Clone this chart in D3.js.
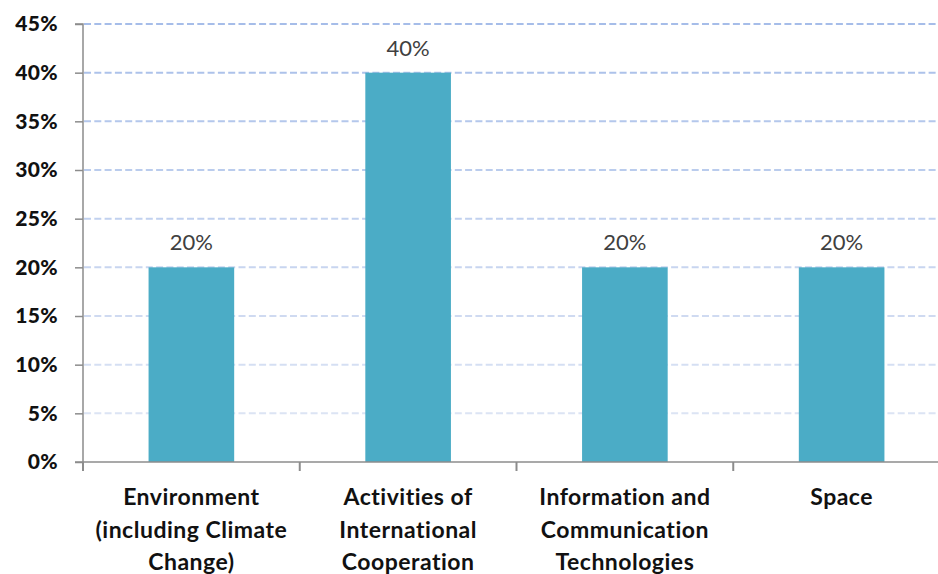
<!DOCTYPE html>
<html>
<head>
<meta charset="utf-8">
<script src="https://cdn.jsdelivr.net/npm/d3@7"></script>
<style>
  html, body { margin: 0; padding: 0; background: #fff; }
  svg { display: block; }
</style>
</head>
<body>
<svg id="chart" width="938" height="574"></svg>
<script>
// Share of projects by thematic area
const categories = [
  ["Environment", "(including Climate", "Change)"],
  ["Activities of", "International", "Cooperation"],
  ["Information and", "Communication", "Technologies"],
  ["Space"]
];
const values = [0.20, 0.40, 0.20, 0.20];
const yTicks = [0, 0.05, 0.10, 0.15, 0.20, 0.25, 0.30, 0.35, 0.40, 0.45];

const svg = d3.select("#chart");
const plotLeft = 83, plotRight = 950, plotTop = 24, plotBottom = 462;

const x = d3.scaleBand()
  .domain(d3.range(categories.length))
  .range([plotLeft, plotRight])
  .paddingInner(0)
  .paddingOuter(0);

const y = d3.scaleLinear().domain([0, 0.45]).range([plotBottom, plotTop]);

const barW = x.bandwidth() * 0.395;

// Gridlines, fading from blue at the top to pale at the bottom
const gridColor = d3.scaleLinear()
  .domain([0.05, 0.45])
  .range(["#dce4f4", "#a6bde9"]);

svg.append("g")
  .selectAll("line")
  .data(yTicks.filter(d => d > 0))
  .join("line")
  .attr("x1", plotLeft + 1)
  .attr("x2", 938)
  .attr("y1", d => y(d))
  .attr("y2", d => y(d))
  .attr("stroke", d => gridColor(d))
  .attr("stroke-width", 2)
  .attr("stroke-dasharray", "7,3.3");

// Bars
svg.append("g")
  .selectAll("rect")
  .data(values)
  .join("rect")
  .attr("x", (d, i) => x(i) + (x.bandwidth() - barW) / 2)
  .attr("y", d => y(d))
  .attr("width", barW)
  .attr("height", d => y(0) - y(d))
  .attr("fill", "#4bacc6");

// Value labels
svg.append("g")
  .selectAll("text")
  .data(values)
  .join("text")
  .attr("x", (d, i) => x(i) + x.bandwidth() / 2)
  .attr("y", d => y(d) - 17)
  .attr("text-anchor", "middle")
  .attr("font-family", "Lato, 'Open Sans', sans-serif")
  .attr("font-size", 22)
  .attr("fill", "#404040")
  .text(d => d3.format(".0%")(d));

// Y axis
const yAxis = d3.axisLeft(y)
  .tickValues(yTicks)
  .tickFormat(d3.format(".0%"))
  .tickSize(8)
  .tickPadding(17);

const gy = svg.append("g")
  .attr("transform", `translate(${plotLeft},0)`)
  .call(yAxis);
gy.select(".domain").attr("stroke", "#8c8c8c").attr("stroke-width", 1.5).attr("d", `M-8,${plotTop}H0V${plotBottom}`);
gy.selectAll(".tick line").attr("stroke", "#8c8c8c").attr("stroke-width", 1.5);
gy.selectAll(".tick text")
  .attr("font-family", "Lato, sans-serif")
  .attr("font-weight", 900)
  .attr("font-size", 21)
  .attr("letter-spacing", 0.3)
  .attr("fill", "#111");

// X axis
const gx = svg.append("g")
  .attr("transform", `translate(0,${plotBottom})`);
gx.append("line")
  .attr("x1", plotLeft - 8).attr("x2", 938)
  .attr("y1", 0).attr("y2", 0)
  .attr("stroke", "#8c8c8c").attr("stroke-width", 1.5);
gx.selectAll("line.tick")
  .data(d3.range(categories.length))
  .join("line")
  .attr("class", "tick")
  .attr("x1", i => x(i)).attr("x2", i => x(i))
  .attr("y1", 0).attr("y2", 9)
  .attr("stroke", "#8c8c8c").attr("stroke-width", 2);

const labels = gx.selectAll("text")
  .data(categories)
  .join("text")
  .attr("text-anchor", "middle")
  .attr("font-family", "Lato, sans-serif")
  .attr("font-weight", "bold")
  .attr("font-size", 23)
  .attr("letter-spacing", 0.5)
  .attr("fill", "#111")
  .attr("transform", (d, i) => `translate(${x(i) + x.bandwidth() / 2},43)`);

labels.selectAll("tspan")
  .data(d => d)
  .join("tspan")
  .attr("x", 0)
  .attr("dy", (d, j) => j === 0 ? 0 : 32.5)
  .text(d => d);
</script>
</body>
</html>
